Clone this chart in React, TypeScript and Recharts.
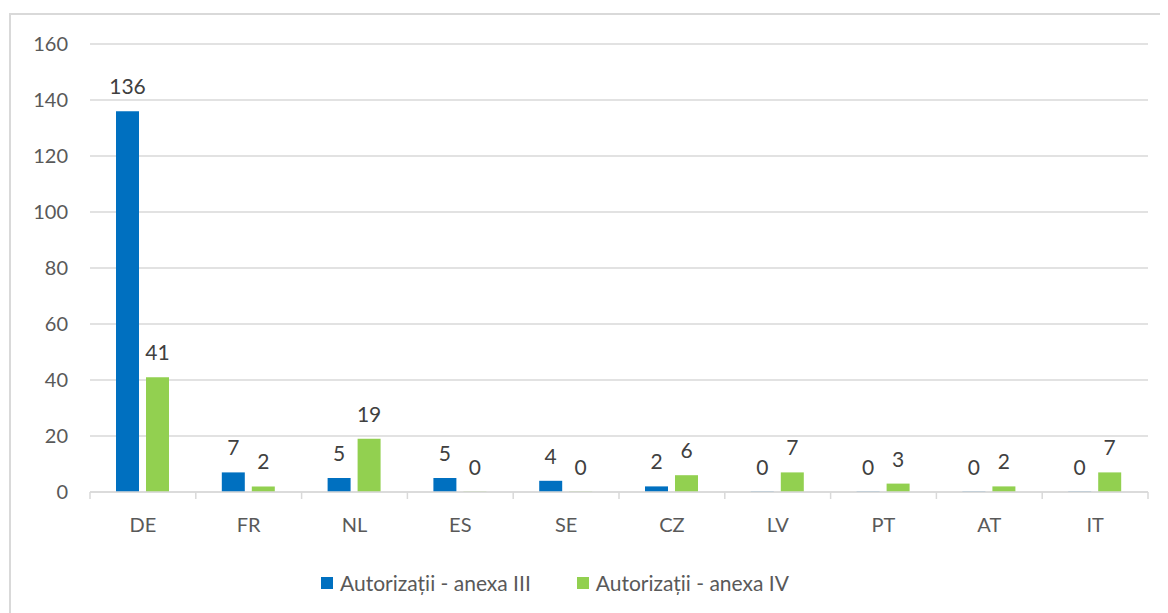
import { BarChart, Bar, XAxis, YAxis, CartesianGrid, Legend, LabelList } from "recharts";

const countries = ["DE", "FR", "NL", "ES", "SE", "CZ", "LV", "PT", "AT", "IT"];
const anexaIII = [136, 7, 5, 5, 4, 2, 0, 0, 0, 0];
const anexaIV = [41, 2, 19, 0, 0, 6, 7, 3, 2, 7];
const yTicks = [0, 20, 40, 60, 80, 100, 120, 140, 160];

const data = countries.map((c, i) => ({ country: c, a3: anexaIII[i], a4: anexaIV[i] }));

const W = 1160;
const H = 605;
const margin = { top: 36, right: 20, left: 0, bottom: 18 };
const Y_W = 82;
const band = (W - Y_W - margin.right) / countries.length;
const FONT = "Lato, 'Open Sans', sans-serif";

function XTick(props: any) {
  const { x, y, payload, index } = props;
  const last = index === countries.length - 1;
  return (
    <g>
      <line x1={x - band / 2} x2={x - band / 2} y1={y} y2={y + 7} stroke="#d9d9d9" strokeWidth={1.5} />
      {last && <line x1={x + band / 2} x2={x + band / 2} y1={y} y2={y + 7} stroke="#d9d9d9" strokeWidth={1.5} />}
      <text x={x} y={y + 32} textAnchor="middle" dominantBaseline="central" fill="#595959" fontSize={20} fontFamily={FONT}>
        {payload.value}
      </text>
    </g>
  );
}

// draws the value above the bar, also for zero values
function ValueLabel(props: any) {
  const { x, y, width, value } = props;
  if (x == null || y == null) return null;
  return (
    <text x={x + width / 2} y={y - 17} textAnchor="middle" fill="#404040" fontSize={21} fontFamily={FONT}>
      {value}
    </text>
  );
}

function LegendBox() {
  const items = [
    { label: "Autorizații - anexa III", color: "#0070c0" },
    { label: "Autorizații - anexa IV", color: "#92d050" },
  ];
  return (
    <div style={{ display: "flex", justifyContent: "center", gap: 46, fontFamily: FONT, fontSize: 21, color: "#595959" }}>
      {items.map((it) => (
        <div key={it.label} style={{ display: "flex", alignItems: "center" }}>
          <span style={{ width: 12, height: 12, background: it.color, display: "inline-block", marginRight: 7 }} />
          {it.label}
        </div>
      ))}
    </div>
  );
}

const zeroMin = (v: any) => (v === 0 ? 0.4 : 0);

export default function App() {
  return (
    <div style={{ position: "relative", width: W, height: H, overflow: "hidden", background: "#fff" }}>
      <div style={{ position: "absolute", left: 1, top: 5, width: 1200, height: 700, border: "2px solid #d9d9d9" }} />
      <div style={{ position: "absolute", left: 0, top: 0 }}>
        <BarChart width={W} height={H} data={data} margin={margin} barSize={23} barGap={7}>
          <CartesianGrid vertical={false} stroke="#d9d9d9" strokeWidth={1.5} />
          <XAxis
            dataKey="country"
            tick={<XTick />}
            tickLine={false}
            tickSize={0}
            tickMargin={0}
            height={78}
            axisLine={{ stroke: "#d9d9d9", strokeWidth: 1.5 }}
            interval={0}
          />
          <YAxis
            width={Y_W}
            domain={[0, 160]}
            ticks={yTicks}
            tickLine={false}
            axisLine={false}
            tickMargin={16}
            tick={{ fill: "#595959", fontSize: 20, fontFamily: FONT }}
          />
          <Legend
            verticalAlign="bottom"
            content={<LegendBox />}
            wrapperStyle={{ left: 0, width: 1094, bottom: 18 }}
          />
          <Bar dataKey="a3" fill="#0070c0" minPointSize={zeroMin} isAnimationActive={false}>
            <LabelList dataKey="a3" content={<ValueLabel />} />
          </Bar>
          <Bar dataKey="a4" fill="#92d050" minPointSize={zeroMin} isAnimationActive={false}>
            <LabelList dataKey="a4" content={<ValueLabel />} />
          </Bar>
        </BarChart>
      </div>
    </div>
  );
}
